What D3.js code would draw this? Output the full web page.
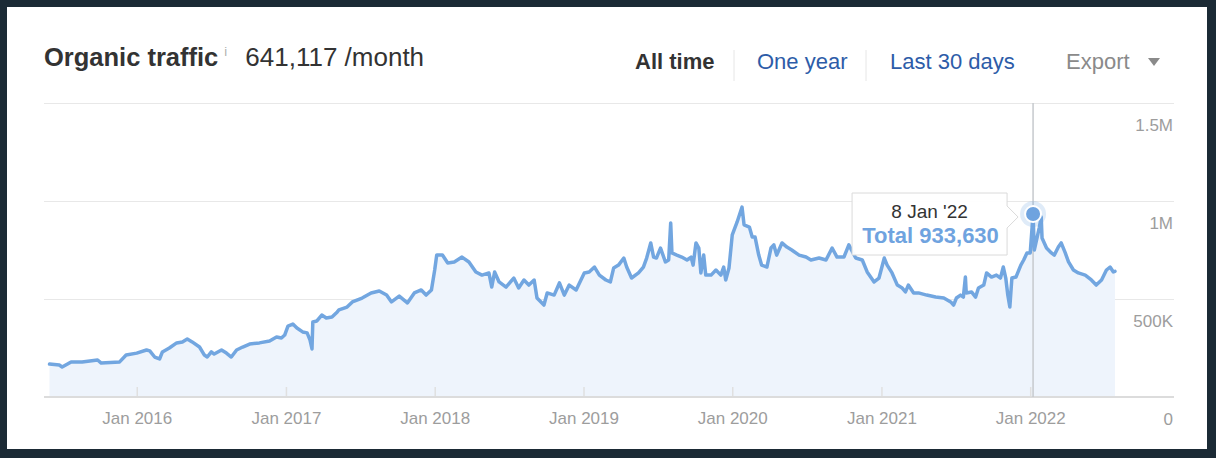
<!DOCTYPE html>
<html><head><meta charset="utf-8">
<script src="https://cdn.jsdelivr.net/npm/d3@7"></script>
<style>
html,body{margin:0;padding:0;background:#1b2a35;}
svg{display:block;font-family:"Liberation Sans",Arial,Helvetica,sans-serif;}
</style></head><body><svg id="c" width="1216" height="458"></svg>
<script>
// ---- data ----
const dates = [
"2015-06-01","2015-06-25","2015-07-02","2015-07-24","2015-08-20","2015-09-27","2015-10-06","2015-11-20","2015-12-06",
"2016-01-01","2016-01-25","2016-02-02","2016-02-14","2016-02-26","2016-03-04","2016-03-21","2016-04-08","2016-04-22","2016-05-04","2016-05-16","2016-06-03","2016-06-15","2016-06-22","2016-07-02","2016-07-09","2016-07-27","2016-08-08","2016-08-20","2016-09-02","2016-09-17","2016-10-04","2016-10-28","2016-11-22","2016-12-09","2016-12-21","2016-12-29",
"2017-01-06","2017-01-18","2017-01-28","2017-02-11","2017-02-22","2017-03-01","2017-03-06","2017-03-08","2017-03-18","2017-03-30","2017-04-10","2017-04-24","2017-05-07","2017-05-11","2017-05-31","2017-06-13","2017-07-07","2017-07-29","2017-08-18","2017-09-05","2017-09-17","2017-10-06","2017-10-26","2017-11-12","2017-11-29","2017-12-11","2017-12-24",
"2018-01-01","2018-01-06","2018-01-20","2018-02-02","2018-02-18","2018-03-09","2018-03-26","2018-04-12","2018-04-27","2018-05-14","2018-05-21","2018-05-28","2018-06-08","2018-06-25","2018-07-14","2018-07-26","2018-08-08","2018-08-20","2018-09-02","2018-09-09","2018-09-26","2018-10-04","2018-10-21","2018-11-03","2018-11-15","2018-11-27","2018-12-14",
"2019-01-03","2019-01-15","2019-01-28","2019-02-09","2019-02-25","2019-03-08","2019-03-16","2019-03-28","2019-04-10","2019-04-17","2019-04-29","2019-05-16","2019-05-28","2019-06-05","2019-06-15","2019-06-22","2019-06-29","2019-07-09","2019-07-21","2019-07-29","2019-08-03","2019-08-06","2019-08-18","2019-08-30","2019-09-12","2019-09-22","2019-09-27","2019-10-04","2019-10-11","2019-10-16","2019-10-23","2019-10-28","2019-11-10","2019-11-22","2019-12-04","2019-12-11","2019-12-16","2019-12-24",
"2020-01-01","2020-01-13","2020-01-25","2020-01-30","2020-02-12","2020-02-19","2020-02-26","2020-03-06","2020-03-13","2020-03-26","2020-04-05","2020-04-12","2020-04-19","2020-05-02","2020-05-14","2020-05-26","2020-06-13","2020-06-30","2020-07-12","2020-08-01","2020-08-18","2020-09-02","2020-09-14","2020-10-01","2020-10-13","2020-10-30","2020-11-15","2020-11-27","2020-12-14","2020-12-26",
"2021-01-08","2021-01-15","2021-01-27","2021-02-09","2021-02-21","2021-03-01","2021-03-08","2021-03-21","2021-04-02","2021-04-22","2021-05-14","2021-06-03","2021-06-20","2021-06-27","2021-07-04","2021-07-14","2021-07-21","2021-07-26","2021-07-28","2021-08-10","2021-08-20","2021-08-27","2021-09-09","2021-09-16","2021-09-28","2021-10-10","2021-10-20","2021-10-27","2021-11-02","2021-11-07","2021-11-12","2021-11-17","2021-11-27","2021-12-09","2021-12-16","2021-12-24",
"2022-01-01","2022-01-08","2022-01-11","2022-01-23","2022-01-28","2022-01-30","2022-02-10","2022-02-22","2022-03-01","2022-03-11","2022-03-18","2022-03-28","2022-04-05","2022-04-17","2022-04-29","2022-05-16","2022-05-31","2022-06-12","2022-06-25","2022-07-07","2022-07-16","2022-07-24","2022-07-28"];

const traffic = [
168000,163000,153000,179000,179000,189000,173000,179000,214000,
224000,240000,235000,204000,194000,230000,250000,276000,281000,296000,281000,255000,214000,204000,230000,219000,240000,224000,204000,240000,255000,270000,276000,286000,306000,301000,316000,
362000,372000,352000,332000,327000,291000,245000,383000,388000,418000,403000,408000,434000,444000,459000,485000,505000,531000,541000,520000,485000,515000,480000,531000,546000,520000,546000,
648000,724000,724000,684000,689000,714000,689000,638000,622000,633000,561000,638000,587000,561000,607000,556000,597000,571000,597000,505000,469000,531000,520000,582000,520000,571000,546000,
633000,638000,663000,622000,597000,587000,658000,673000,709000,663000,607000,633000,663000,709000,786000,714000,709000,760000,689000,699000,888000,735000,724000,714000,699000,714000,673000,786000,760000,633000,724000,622000,622000,648000,622000,663000,597000,658000,
827000,893000,969000,878000,867000,816000,816000,724000,673000,663000,760000,776000,724000,786000,765000,750000,724000,714000,699000,709000,699000,760000,714000,714000,776000,709000,699000,638000,587000,607000,
709000,673000,633000,571000,556000,536000,571000,531000,531000,520000,510000,505000,485000,469000,505000,520000,510000,612000,531000,536000,510000,556000,571000,633000,612000,622000,607000,663000,607000,520000,459000,607000,612000,673000,699000,735000,
735000,933630,750000,862000,918000,811000,760000,735000,724000,765000,786000,735000,689000,648000,633000,622000,597000,571000,597000,648000,663000,638000,641117];

const yTicks = [0, 500000, 1000000, 1500000];
const xTickDates = ["2016-01-01","2017-01-01","2018-01-01","2019-01-01","2020-01-01","2021-01-01","2022-01-01"];
const rangeButtons = ["All time", "One year", "Last 30 days"];
const selectedDate = "2022-01-08";
const currentTraffic = 641117;

// ---- drawing ----
const parse = d3.timeParse("%Y-%m-%d");
const data = dates.map((d, i) => ({date: parse(d), value: traffic[i]}));

const svg = d3.select("#c");
svg.append("rect").attr("width", 1216).attr("height", 458).attr("fill", "#1b2a35");
svg.append("rect").attr("x", 7).attr("y", 7).attr("width", 1200).attr("height", 442).attr("fill", "#ffffff");

// header
const title = svg.append("text").attr("x", 44).attr("y", 66)
  .attr("font-size", 25.5).attr("font-weight", "bold").attr("fill", "#333").text("Organic traffic");
const tw = title.node().getComputedTextLength();
svg.append("text").attr("x", 44 + tw + 6).attr("y", 56).attr("font-size", 13).attr("fill", "#b0b0b0").text("i");
svg.append("text").attr("x", 44 + tw + 27).attr("y", 66).attr("font-size", 26).attr("fill", "#333")
  .text(d3.format(",")(currentTraffic) + " /month");

const btnX = [635, 757, 890];
rangeButtons.forEach((b, i) => {
  svg.append("text").attr("x", btnX[i]).attr("y", 69).attr("font-size", 22)
    .attr("font-weight", i === 0 ? "bold" : "normal")
    .attr("fill", i === 0 ? "#333" : "#2d5ca8").text(b);
});
[734, 866].forEach(sx => svg.append("line").attr("x1", sx).attr("x2", sx).attr("y1", 50).attr("y2", 81)
  .attr("stroke", "#e6e6e6").attr("stroke-width", 1));
svg.append("text").attr("x", 1066).attr("y", 69).attr("font-size", 22).attr("fill", "#8a8a8a").text("Export");
svg.append("path").attr("d", "M1148,58L1160,58L1154,66Z").attr("fill", "#8a8a8a");

// scales
const x = d3.scaleTime().domain(d3.extent(data, d => d.date)).range([49.5, 1115]);
const y = d3.scaleLinear().domain([0, 1500000]).range([397, 103]);

// y grid + labels
const fmtY = v => v === 0 ? "0" : v >= 1e6 ? (v / 1e6) + "M" : (v / 1e3) + "K";
const gy = svg.append("g").attr("transform", "translate(44,0)")
  .call(d3.axisRight(y).tickValues(yTicks).tickSize(1130).tickFormat(fmtY));
gy.select(".domain").remove();
gy.selectAll(".tick line").attr("stroke", "#e8e8e8").attr("stroke-width", 1);
gy.selectAll(".tick text").attr("x", 1129).attr("y", 27).attr("dy", 0)
  .attr("text-anchor", "end").attr("font-size", 17).attr("fill", "#9d9d9d")
  .attr("font-family", "Liberation Sans, Arial, sans-serif");

// area
svg.append("path").datum(data)
  .attr("d", d3.area().x(d => x(d.date)).y0(y(0)).y1(d => y(d.value)))
  .attr("fill", "#eef4fc");

// x axis
const gx = svg.append("g").attr("transform", "translate(0,397)")
  .call(d3.axisBottom(x).tickValues(xTickDates.map(parse)).tickSize(-10).tickPadding(15)
    .tickFormat(d3.timeFormat("%b %Y")));
gx.select(".domain").remove();
gx.selectAll(".tick line").attr("stroke", "#e0e0e0").attr("stroke-width", 1.5);
gx.selectAll(".tick text").attr("font-size", 17).attr("fill", "#9d9d9d")
  .attr("font-family", "Liberation Sans, Arial, sans-serif");
svg.append("line").attr("x1", 44).attr("x2", 1174).attr("y1", 397).attr("y2", 397)
  .attr("stroke", "#dcdcdc").attr("stroke-width", 2);

// crosshair
const sel = data.find(d => +d.date === +parse(selectedDate));
const px = x(sel.date), py = y(sel.value);
svg.append("line").attr("x1", px).attr("x2", px).attr("y1", y(1500000)).attr("y2", y(0))
  .attr("stroke", "#c6c9cd").attr("stroke-width", 1.5);

// line
svg.append("path").datum(data)
  .attr("d", d3.line().x(d => x(d.date)).y(d => y(d.value)))
  .attr("fill", "none").attr("stroke", "#72a6e0").attr("stroke-width", 3.5)
  .attr("stroke-linejoin", "round").attr("stroke-linecap", "round");

// tooltip
const bx = px - 181, bw = 155, by = py - 21, bh = 62;
svg.append("path")
  .attr("d", `M${bx},${by}H${bx + bw}V${py - 8}L${px - 15},${py + 3}L${bx + bw},${py + 14}V${by + bh}H${bx}Z`)
  .attr("fill", "#fff").attr("fill-opacity", 0.95).attr("stroke", "#dadada").attr("stroke-width", 1);
svg.append("text").attr("x", bx + bw / 2).attr("y", py + 4).attr("text-anchor", "middle")
  .attr("font-size", 19).attr("fill", "#333").text(d3.timeFormat("%-d %b '%y")(sel.date));
svg.append("text").attr("x", bx + bw / 2 + 1).attr("y", py + 29).attr("text-anchor", "middle")
  .attr("font-size", 22).attr("font-weight", "bold").attr("fill", "#6fa3df")
  .text("Total " + d3.format(",")(sel.value));

// point
svg.append("circle").attr("cx", px).attr("cy", py).attr("r", 13).attr("fill", "#6fa3df").attr("fill-opacity", 0.22);
svg.append("circle").attr("cx", px).attr("cy", py).attr("r", 8).attr("fill", "#6fa3df")
  .attr("stroke", "#fff").attr("stroke-width", 2);
</script></body></html>
